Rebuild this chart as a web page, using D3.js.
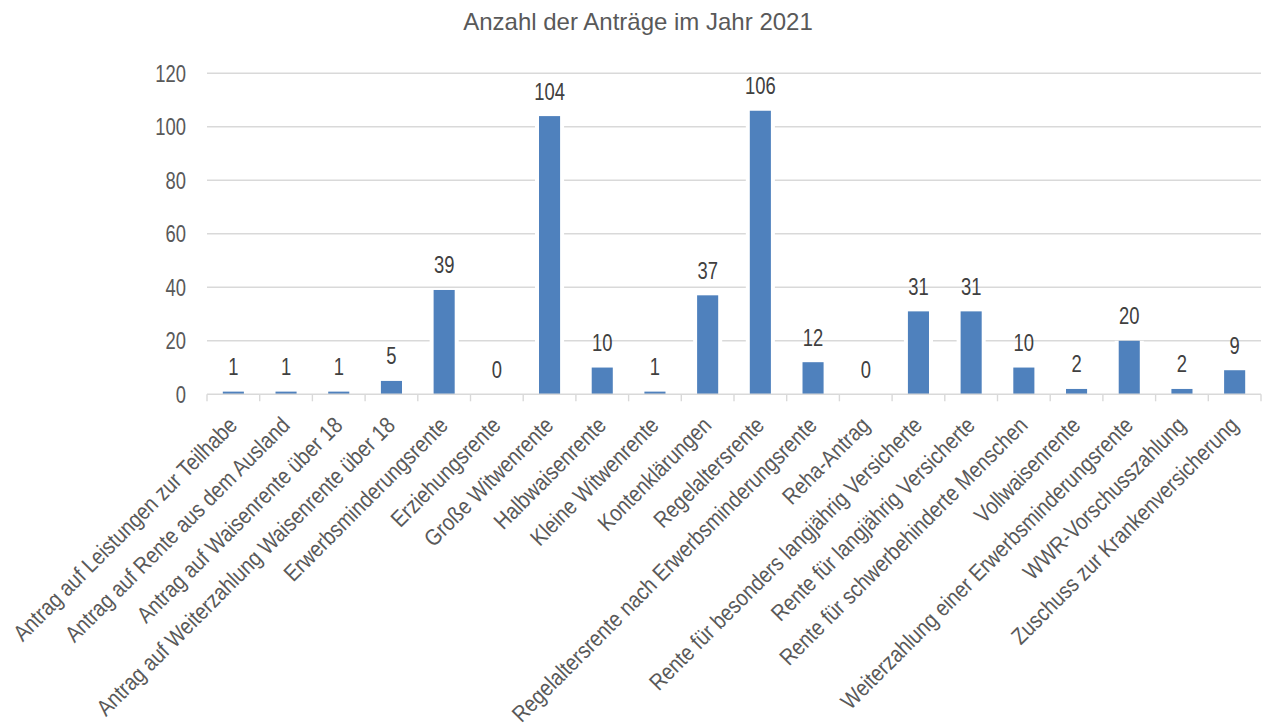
<!DOCTYPE html>
<html>
<head>
<meta charset="utf-8">
<script src="https://cdn.jsdelivr.net/npm/d3@7"></script>
<style>
  html, body { margin: 0; padding: 0; background: #fff; }
  svg { display: block; font-family: "Liberation Sans", Arial, sans-serif; }
</style>
</head>
<body>
<svg id="chart" width="1263" height="726"></svg>
<script>
// Anträge 2021 nach Antragsart
const categories = [
  "Antrag auf Leistungen zur Teilhabe",
  "Antrag auf Rente aus dem Ausland",
  "Antrag auf Waisenrente über 18",
  "Antrag auf Weiterzahlung Waisenrente über 18",
  "Erwerbsminderungsrente",
  "Erziehungsrente",
  "Große Witwenrente",
  "Halbwaisenrente",
  "Kleine Witwenrente",
  "Kontenklärungen",
  "Regelaltersrente",
  "Regelaltersrente nach Erwerbsminderungsrente",
  "Reha-Antrag",
  "Rente für besonders langjährig Versicherte",
  "Rente für langjährig Versicherte",
  "Rente für schwerbehinderte Menschen",
  "Vollwaisenrente",
  "Weiterzahlung einer Erwerbsminderungsrente",
  "WWR-Vorschusszahlung",
  "Zuschuss zur Krankenversicherung"
];
const values = [1, 1, 1, 5, 39, 0, 104, 10, 1, 37, 106, 12, 0, 31, 31, 10, 2, 20, 2, 9];
const yTicks = [0, 20, 40, 60, 80, 100, 120];
const title = "Anzahl der Anträge im Jahr 2021";

const svg = d3.select("#chart");
const textColor = "#595959";
const gridColor = "#d9d9d9";
const barColor = "#4f81bd";
const narrowNum = 0.8;    // condensed glyph width for numbers
const narrowCat = 0.86;   // condensed glyph width for category labels

const plot = { left: 207, right: 1261, top: 73.3, bottom: 394.3 };

const x = d3.scaleBand()
  .domain(categories)
  .range([plot.left, plot.right])
  .paddingInner(0.6)
  .paddingOuter(0.3);

const y = d3.scaleLinear()
  .domain([0, 120])
  .range([plot.bottom, plot.top]);

// title
svg.append("text")
  .attr("x", 638)
  .attr("y", 30)
  .attr("text-anchor", "middle")
  .attr("fill", textColor)
  .attr("font-size", 24)
  .text(title);

// horizontal gridlines
svg.append("g")
  .selectAll("line")
  .data(yTicks.filter(d => d > 0))
  .join("line")
  .attr("x1", plot.left)
  .attr("x2", plot.right)
  .attr("y1", d => y(d))
  .attr("y2", d => y(d))
  .attr("stroke", gridColor)
  .attr("stroke-width", 1.4);

// y tick labels
svg.append("g")
  .selectAll("text")
  .data(yTicks)
  .join("text")
  .attr("transform", d => `translate(186,${y(d)}) scale(${narrowNum},1)`)
  .attr("text-anchor", "end")
  .attr("dy", "0.36em")
  .attr("fill", textColor)
  .attr("font-size", 23)
  .text(d => d);

// white halo behind each column
const halo = 4;
svg.append("g")
  .selectAll("rect")
  .data(values)
  .join("rect")
  .attr("x", (d, i) => x(categories[i]) - halo)
  .attr("width", x.bandwidth() + 2 * halo)
  .attr("y", d => y(d))
  .attr("height", d => plot.bottom - y(d))
  .attr("fill", "#fff");

// columns
svg.append("g")
  .selectAll("rect")
  .data(values)
  .join("rect")
  .attr("x", (d, i) => x(categories[i]))
  .attr("width", x.bandwidth())
  .attr("y", d => y(d))
  .attr("height", d => plot.bottom - y(d))
  .attr("fill", barColor);

// x axis line with boundary ticks
const boundaries = d3.range(categories.length + 1)
  .map(i => plot.left + i * (plot.right - plot.left) / categories.length);
const axisG = svg.append("g");
axisG.append("line")
  .attr("x1", plot.left).attr("x2", plot.right)
  .attr("y1", plot.bottom).attr("y2", plot.bottom)
  .attr("stroke", gridColor).attr("stroke-width", 1.4);
axisG.selectAll("line.tick")
  .data(boundaries)
  .join("line")
  .attr("class", "tick")
  .attr("x1", d => d).attr("x2", d => d)
  .attr("y1", plot.bottom).attr("y2", plot.bottom + 7)
  .attr("stroke", gridColor).attr("stroke-width", 1.4);

// rotated category labels
svg.append("g")
  .selectAll("text")
  .data(categories)
  .join("text")
  .attr("transform", d => `translate(${x(d) + x.bandwidth() / 2 - 0.5},421) rotate(-45) scale(${narrowCat},1)`)
  .attr("text-anchor", "end")
  .attr("dy", "0.35em")
  .attr("fill", textColor)
  .attr("font-size", 23)
  .text(d => d);

// value labels above the columns
svg.append("g")
  .selectAll("text")
  .data(values)
  .join("text")
  .attr("transform", (d, i) => `translate(${x(categories[i]) + x.bandwidth() / 2},${y(d) - 16.5}) scale(${narrowNum},1)`)
  .attr("text-anchor", "middle")
  .attr("fill", "#404040")
  .attr("font-size", 23)
  .text(d => d);
</script>
</body>
</html>
